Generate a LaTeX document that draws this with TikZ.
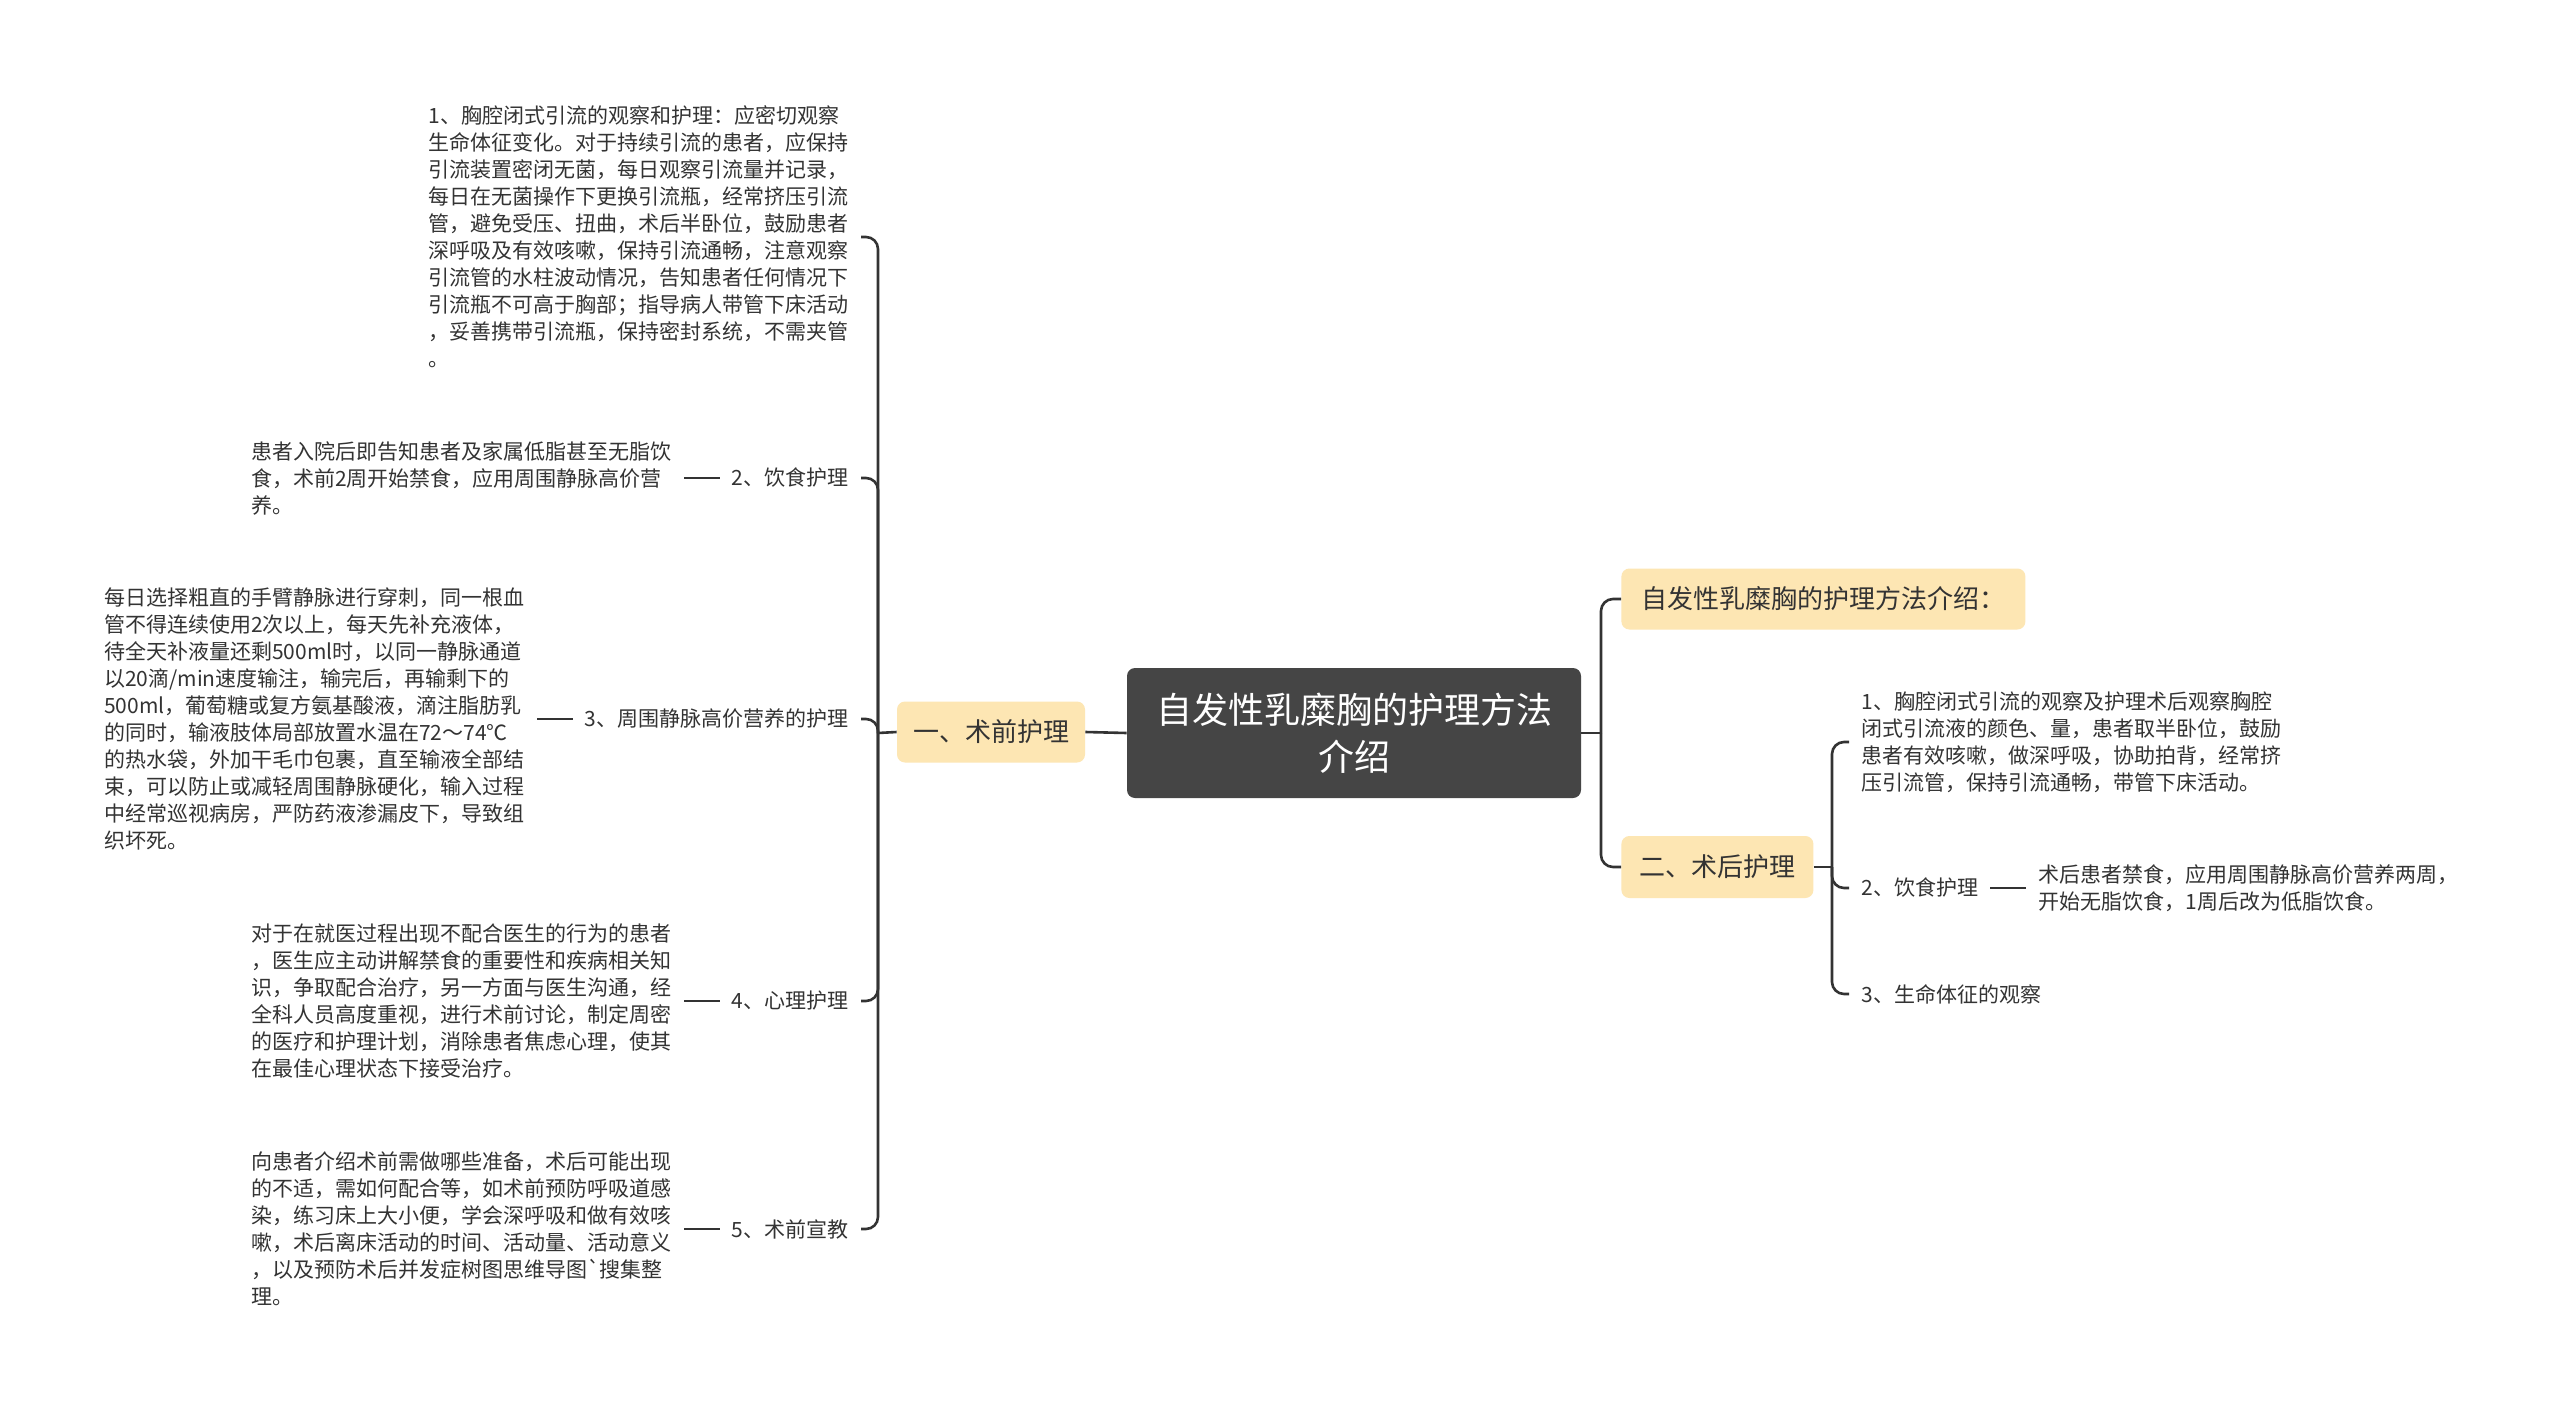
\documentclass[tikz,border=0pt]{standalone}
\usepackage{fontspec}
\setmainfont{Noto Sans CJK SC}
\usetikzlibrary{positioning}

\definecolor{rootgray}{HTML}{454545}
\definecolor{branchfill}{HTML}{FDE6B3}
\definecolor{linkgray}{HTML}{333333}
\definecolor{textgray}{HTML}{333333}

\begin{document}
\begin{tikzpicture}[x=0.5pt, y=-0.5pt,
      rootbox/.style={fill=rootgray, rounded corners=4pt, text=white, align=center, minimum width=227pt, minimum height=65pt, font=\fontsize{18}{23.5}\selectfont},
      branchbox/.style={fill=branchfill, rounded corners=4pt, inner xsep=8pt, minimum height=30.5pt, text=textgray, font=\fontsize{13}{16}\selectfont},
      item/.style={inner xsep=6pt, inner ysep=0pt, text=textgray, font=\fontsize{10.5}{13.5}\selectfont},
      desc/.style={item, align=left},
      link/.style={draw=linkgray, line width=1.3pt, rounded corners=6pt}
    ]
      % white page, fixes the size too
      \fill[white] (0,0) rectangle (2560,1413);

      % Central topic
      \node[rootbox] (root) at (1354,733) {自发性乳糜胸的护理方法\\介绍};

      % Left branch: pre-operative care
      \node[branchbox, minimum width=93pt] (pre) at (991,732) {一、术前护理};
      \coordinate (lspine) at (878,733);

      % Items of the left branch (labels anchored east, texts to their left)
      \node[desc, anchor=east] (p1) at (861,237) {1、胸腔闭式引流的观察和护理：应密切观察\\生命体征变化。对于持续引流的患者，应保持\\引流装置密闭无菌，每日观察引流量并记录，\\每日在无菌操作下更换引流瓶，经常挤压引流\\管，避免受压、扭曲，术后半卧位，鼓励患者\\深呼吸及有效咳嗽，保持引流通畅，注意观察\\引流管的水柱波动情况，告知患者任何情况下\\引流瓶不可高于胸部；指导病人带管下床活动\\，妥善携带引流瓶，保持密封系统，不需夹管\\。};

      \node[item, anchor=east] (p2) at (861,478) {2、饮食护理};
      \node[desc, left=18pt of p2] (p2txt) {患者入院后即告知患者及家属低脂甚至无脂饮\\食，术前2周开始禁食，应用周围静脉高价营\\养。};

      \node[item, anchor=east] (p3) at (861,719) {3、周围静脉高价营养的护理};
      \node[desc, left=18pt of p3] (p3txt) {每日选择粗直的手臂静脉进行穿刺，同一根血\\管不得连续使用2次以上，每天先补充液体，\\待全天补液量还剩500ml时，以同一静脉通道\\以20滴/min速度输注，输完后，再输剩下的\\500ml，葡萄糖或复方氨基酸液，滴注脂肪乳\\的同时，输液肢体局部放置水温在72～74℃\\的热水袋，外加干毛巾包裹，直至输液全部结\\束，可以防止或减轻周围静脉硬化，输入过程\\中经常巡视病房，严防药液渗漏皮下，导致组\\织坏死。};

      \node[item, anchor=east] (p4) at (861,1001) {4、心理护理};
      \node[desc, left=18pt of p4] (p4txt) {对于在就医过程出现不配合医生的行为的患者\\，医生应主动讲解禁食的重要性和疾病相关知\\识，争取配合治疗，另一方面与医生沟通，经\\全科人员高度重视，进行术前讨论，制定周密\\的医疗和护理计划，消除患者焦虑心理，使其\\在最佳心理状态下接受治疗。};

      \node[item, anchor=east] (p5) at (861,1229) {5、术前宣教};
      \node[desc, left=18pt of p5] (p5txt) {向患者介绍术前需做哪些准备，术后可能出现\\的不适，需如何配合等，如术前预防呼吸道感\\染，练习床上大小便，学会深呼吸和做有效咳\\嗽，术后离床活动的时间、活动量、活动意义\\，以及预防术后并发症树图思维导图\textasciigrave 搜集整\\理。};

      % Right branches
      \coordinate (rspine) at (1601,733);
      \node[branchbox, minimum width=202pt, anchor=west] (r1) at (1621,599) {自发性乳糜胸的护理方法介绍：};
      \node[branchbox, minimum width=96pt, minimum height=31pt, anchor=west] (post) at (1621,867) {二、术后护理};
      \coordinate (pspine) at (1832,867);

      % Items of the post-operative branch
      \node[desc, anchor=west] (q1) at (1849,742) {1、胸腔闭式引流的观察及护理术后观察胸腔\\闭式引流液的颜色、量，患者取半卧位，鼓励\\患者有效咳嗽，做深呼吸，协助拍背，经常挤\\压引流管，保持引流通畅，带管下床活动。};
      \node[item, anchor=west] (q2) at (1849,888) {2、饮食护理};
      \node[desc, right=18pt of q2] (q2txt) {术后患者禁食，应用周围静脉高价营养两周，\\开始无脂饮食，1周后改为低脂饮食。};
      \node[item, anchor=west] (q3) at (1849,994) {3、生命体征的观察};

      % Connectors, left side
      \draw[link] (root.west) -- (pre.east);
      \draw[link] (pre.west) -- (lspine);
      \foreach \n in {p1,p2,p3,p4,p5} {
        \draw[link] (lspine) |- (\n.east);
      }
      \foreach \a/\b in {p2/p2txt, p3/p3txt, p4/p4txt, p5/p5txt} {
        \draw[link] (\a.west) -- (\b.east);
      }

      % Connectors, right side
      \draw[link] (root.east) -- (rspine);
      \foreach \n in {r1,post} {
        \draw[link] (rspine) |- (\n.west);
      }
      \draw[link] (post.east) -- (pspine);
      \foreach \n in {q1,q2,q3} {
        \draw[link] (pspine) |- (\n.west);
      }
      \draw[link] (q2.east) -- (q2txt.west);
    \end{tikzpicture}
\end{document}
